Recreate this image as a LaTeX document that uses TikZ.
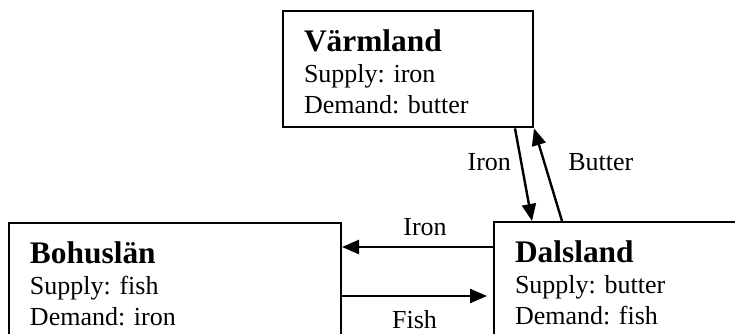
\documentclass[tikz,border=0pt]{standalone}
\usepackage{fontspec}
\setmainfont{Liberation Serif}
\usetikzlibrary{positioning,arrows.meta,calc}

\newcommand\regtitle[1]{{\fontsize{15.7}{15.5}\selectfont\bfseries #1}}
\frenchspacing

\begin{document}
\begin{tikzpicture}[
  x=0.5pt, y=-0.5pt,
  >={Triangle[length=8.5pt,width=7pt]},
  font=\fontsize{13}{15.5}\selectfont,
  region/.style={
    rectangle, draw, line width=1pt, anchor=north west, align=left,
    inner xsep=10.5pt, inner ysep=7pt, text height=13pt, text width=#1
  },
  arr/.style={->, line width=1.2pt},
  lbl/.style={inner sep=4.5pt},
]
\clip (0,0) rectangle (735,333);

% ---- the three regions ----
\node[region=104pt] (varm) at (282,10)
  {\regtitle{Värmland}\\ Supply: iron\\ Demand: butter};

\node[region=145pt] (bohus) at (8,222)
  {\regtitle{Bohuslän}\\ Supply: fish\\ Demand: iron};

\node[region=150pt] (dals) at (493,221)
  {\regtitle{Dalsland}\\ Supply: butter\\ Demand: fish};

% ---- Värmland <-> Dalsland ----
\draw[arr] ($(varm.south east)+(-19,0)$) -- ($(dals.north west)+(39,0)$)
  node[lbl, pos=0.36, left] {Iron};
\draw[arr] ($(dals.north west)+(69,0)$) -- (varm.south east)
  node[lbl, pos=0.64, right, xshift=7pt] {Butter};

% ---- Dalsland <-> Bohuslän ----
\coordinate (ironw) at ($(dals.north west)+(0,26)$);
\draw[arr] (ironw) -- (ironw -| bohus.east)
  node[lbl, pos=0.45, above, inner sep=5pt] {Iron};
\coordinate (fishw) at ($(bohus.north east)+(0,74)$);
\draw[arr] (fishw) -- ($(fishw -| dals.west)+(-6,0)$)
  node[lbl, midway, below, inner sep=6.5pt] {Fish};

\end{tikzpicture}
\end{document}
